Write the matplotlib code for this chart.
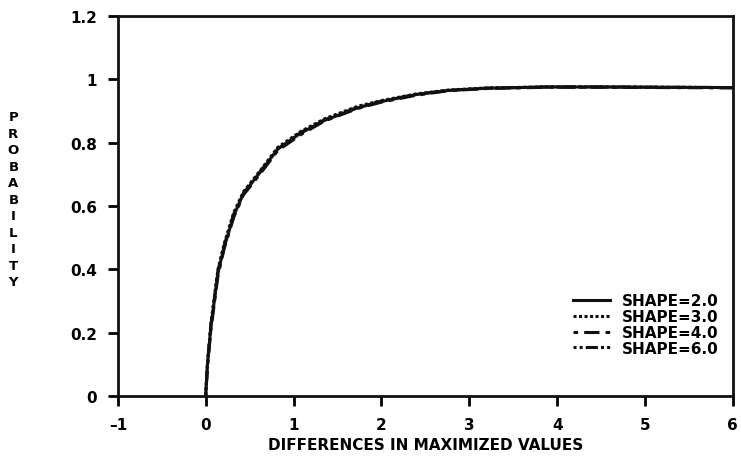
import matplotlib
matplotlib.use("Agg")
import matplotlib.pyplot as plt

plt.rcParams['font.family'] = ['DejaVu Sans']

x_vals = [0.0, 0.02, 0.06, 0.14, 0.21, 0.32, 0.43, 0.63, 0.82, 1.08, 1.35, 1.73, 2.0, 2.4, 2.76, 3.2, 3.9, 4.5, 5.2, 6.0]
shape2 = [0.0, 0.10, 0.22, 0.39, 0.47, 0.57, 0.64, 0.71, 0.78, 0.83, 0.87, 0.91, 0.93, 0.952, 0.965, 0.972, 0.976, 0.976, 0.975, 0.974]
shape3 = [0.0, 0.10, 0.23, 0.40, 0.48, 0.58, 0.645, 0.715, 0.785, 0.835, 0.875, 0.915, 0.933, 0.954, 0.966, 0.973, 0.976, 0.976, 0.975, 0.974]
shape4 = [0.0, 0.09, 0.21, 0.38, 0.465, 0.565, 0.635, 0.705, 0.775, 0.825, 0.868, 0.908, 0.928, 0.95, 0.964, 0.971, 0.975, 0.975, 0.974, 0.973]
shape6 = [0.0, 0.10, 0.225, 0.395, 0.475, 0.575, 0.64, 0.712, 0.78, 0.832, 0.872, 0.912, 0.931, 0.953, 0.965, 0.972, 0.976, 0.976, 0.975, 0.974]
labels = ["SHAPE=2.0", "SHAPE=3.0", "SHAPE=4.0", "SHAPE=6.0"]

x_ticks = [-1, 0, 1, 2, 3, 4, 5, 6]
x_tick_labels = ["\u20131", "0", "1", "2", "3", "4", "5", "6"]
y_ticks = [0, 0.2, 0.4, 0.6, 0.8, 1.0, 1.2]
y_tick_labels = ["0", "0.2", "0.4", "0.6", "0.8", "1", "1.2"]

fig = plt.figure(figsize=(7.41, 4.60), dpi=100)
ax = fig.add_axes([0.159, 0.137, 0.830, 0.826])

styles = ['-', (0, (1, 0.8)), (0, (1.5, 2, 5, 2)), (0, (1, 1, 1, 1, 4, 1))]
for ys, ls, lab in zip([shape2, shape3, shape4, shape6], styles, labels):
    ax.plot(x_vals, ys, color='#111111', linestyle=ls, linewidth=2.2, label=lab)

ax.set_xlim(-1, 6)
ax.set_ylim(0, 1.2)
ax.set_xticks(x_ticks)
ax.set_xticklabels(x_tick_labels, fontsize=11, fontweight='bold')
ax.set_yticks(y_ticks)
ax.set_yticklabels(y_tick_labels, fontsize=11, fontweight='bold')
ax.tick_params(direction='out', length=7, width=2, pad=8)
for sp in ax.spines.values():
    sp.set_linewidth(2)
    sp.set_color('#111111')

ax.set_xlabel("DIFFERENCES IN MAXIMIZED VALUES", fontsize=11, fontweight='bold', labelpad=4)
fig.text(0.018, 0.565, "\n".join("PROBABILITY"), ha='center', va='center',
         fontsize=9.5, fontweight='bold', linespacing=1.35)

leg = ax.legend(loc='lower right', bbox_to_anchor=(1.0, 0.07), frameon=False,
                prop={'weight': 'bold', 'size': 11}, handlelength=2.4,
                labelspacing=0.05, handletextpad=0.8)

fig.savefig("out.png", dpi=100)
